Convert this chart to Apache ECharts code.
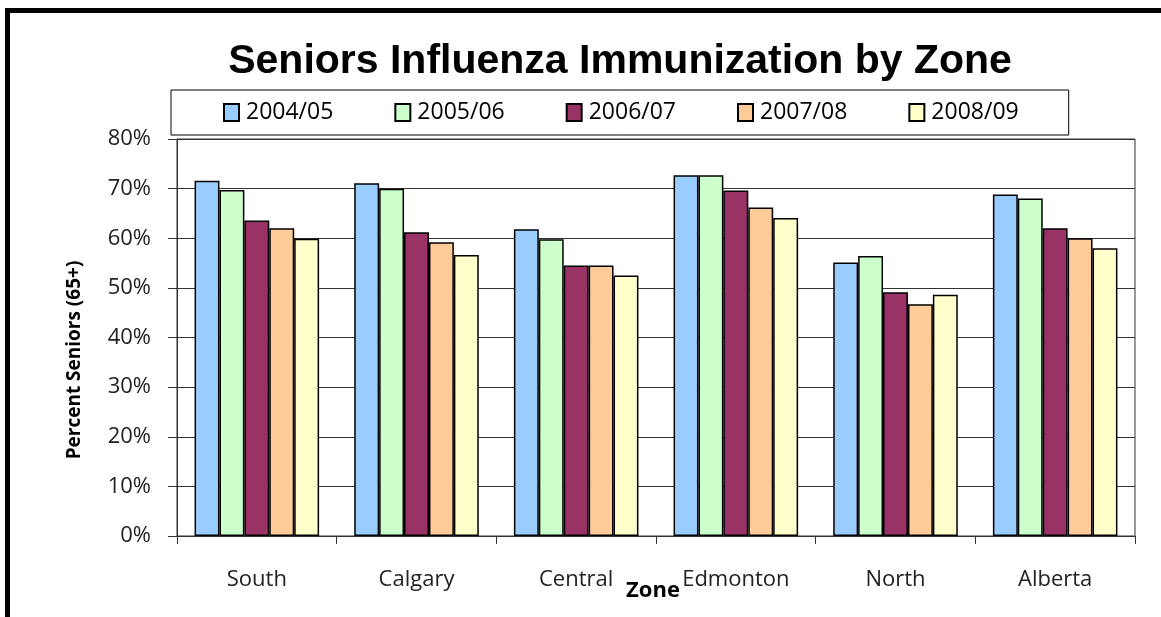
<!DOCTYPE html>
<html><head><meta charset="utf-8">
<script src="https://cdn.jsdelivr.net/npm/echarts@6/dist/echarts.min.js"></script>
<style>html,body{margin:0;padding:0;background:#fff;}#c{width:1161px;height:617px;}</style>
</head><body><div id="c"></div>
<script>
const categories = ['South','Calgary','Central','Edmonton','North','Alberta'];
const seriesNames = ['2004/05','2005/06','2006/07','2007/08','2008/09'];
const s2004 = [71.6, 71.1, 61.8, 72.7, 55.1, 68.8];
const s2005 = [69.7, 70.0, 59.8, 72.7, 56.4, 68.0];
const s2006 = [63.6, 61.2, 54.5, 69.6, 49.1, 62.0];
const s2007 = [62.0, 59.2, 54.5, 66.2, 46.7, 60.0];
const s2008 = [59.9, 56.6, 52.5, 64.1, 48.6, 58.0];
const colors = ['#99CCFF','#CCFFCC','#993366','#FFCC99','#FFFFCC'];
const allData = [s2004, s2005, s2006, s2007, s2008];
const font = '"Open Sans", "Liberation Sans", sans-serif';

const chart = echarts.init(document.getElementById('c'), null, {renderer:'canvas'});
chart.setOption({
  animation:false,
  backgroundColor:'#fff',
  title:{text:'Seniors Influenza Immunization by Zone', left:615, top:36, textAlign:'center',
    textStyle:{fontFamily:'"Liberation Sans Narrow", "Liberation Sans", sans-serif', fontWeight:'bold', fontSize:41, color:'#000'}},
  legend:{data:seriesNames, left:171, top:90, padding:[11,50,11,52], itemGap:61,
    borderColor:'#000', borderWidth:1, itemWidth:15, itemHeight:17, icon:'rect',
    textStyle:{fontFamily:font, fontSize:23, color:'#000', padding:[0,0,0,2]}},
  grid:{left:177, right:26, top:139, bottom:81, containLabel:false, outerBoundsMode:'none', show:true, borderColor:'#333', borderWidth:1},
  xAxis:{type:'category', data:categories, name:'Zone', nameLocation:'middle', nameGap:44, nameMoveOverlap:false,
    nameTextStyle:{fontFamily:font, fontWeight:'bold', fontSize:22, color:'#000', padding:[0,0,0,-6]},
    axisLine:{lineStyle:{color:'#333'}}, axisTick:{show:true, length:8, lineStyle:{color:'#333'}},
    axisLabel:{fontFamily:font, fontSize:22, color:'#222', margin:33}},
  yAxis:{type:'value', min:0, max:80, interval:10,
    axisLine:{show:true, lineStyle:{color:'#333'}}, axisTick:{show:true, length:9, lineStyle:{color:'#333'}},
    axisLabel:{fontFamily:font, fontSize:22, color:'#222', margin:26, formatter:'{value}%'},
    splitLine:{lineStyle:{color:'#333', width:1}}},
  series: seriesNames.map((n,i)=>({name:n, type:'bar', data:allData[i], barGap:'0%', barCategoryGap:'22%',
    itemStyle:{color:colors[i], borderColor:'#000', borderWidth:1.5}})),
  graphic:[
    {type:'polyline', shape:{points:[[7.5,640],[7.5,10.5],[1170,10.5]]}, style:{fill:null, stroke:'#000', lineWidth:5}, silent:true},
    {type:'text', x:75, y:360, rotation:Math.PI/2, silent:true,
      style:{text:'Percent Seniors (65+)', fontFamily:font, fontWeight:'bold', fontSize:19, fill:'#000', align:'center', verticalAlign:'middle'}}
  ]
});
</script></body></html>
